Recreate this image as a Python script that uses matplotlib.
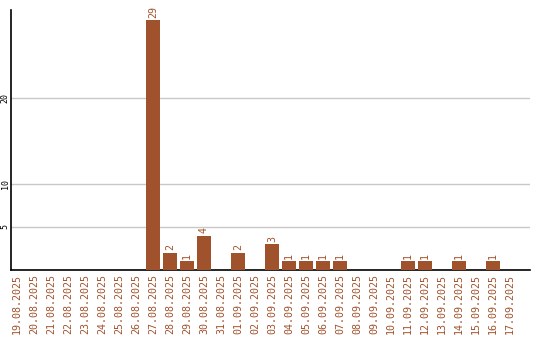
import matplotlib
matplotlib.use("Agg")
import matplotlib.pyplot as plt

dates = ["19.08.2025", "20.08.2025", "21.08.2025", "22.08.2025", "23.08.2025",
         "24.08.2025", "25.08.2025", "26.08.2025", "27.08.2025", "28.08.2025",
         "29.08.2025", "30.08.2025", "31.08.2025", "01.09.2025", "02.09.2025",
         "03.09.2025", "04.09.2025", "05.09.2025", "06.09.2025", "07.09.2025",
         "08.09.2025", "09.09.2025", "10.09.2025", "11.09.2025", "12.09.2025",
         "13.09.2025", "14.09.2025", "15.09.2025", "16.09.2025", "17.09.2025"]
counts = [0, 0, 0, 0, 0, 0, 0, 0, 29, 2, 1, 4, 0, 2, 0, 3, 1, 1, 1, 1,
          0, 0, 0, 1, 1, 0, 1, 0, 1, 0]
yticks = [5, 10, 20]

color = "#A0522D"
plt.rcParams['font.family'] = ['DejaVu Sans Mono']

fig = plt.figure(figsize=(5.4, 3.4), dpi=100)
ax = fig.add_axes([11/540, 70/340, 519/540, 260/340])
x = list(range(len(dates)))
ax.bar(x, counts, width=14/17, color=color, zorder=3)
for xi, v in zip(x, counts):
    if v > 0:
        ax.text(xi, v + 0.3, str(v), rotation=90, ha="center", va="bottom",
                color=color, fontsize=7.2)
ax.set_xlim(-0.35, 30.18)
ax.set_ylim(0, 30.2)
ax.set_yticks(yticks)
ax.set_yticklabels([str(t) for t in yticks], rotation=90, va="center", fontsize=6)
ax.set_xticks(x)
ax.set_xticklabels(dates, rotation=90, color=color, fontsize=7.2)
ax.tick_params(axis="x", length=0, pad=3)
ax.tick_params(axis="y", length=0, pad=1)
ax.grid(axis="y", color="#c8c8c8", linewidth=1, zorder=0)
for s in ["top", "right"]:
    ax.spines[s].set_visible(False)
ax.spines["left"].set_linewidth(1.2)
ax.spines["bottom"].set_linewidth(1.2)
fig.savefig("out.png", dpi=100)
